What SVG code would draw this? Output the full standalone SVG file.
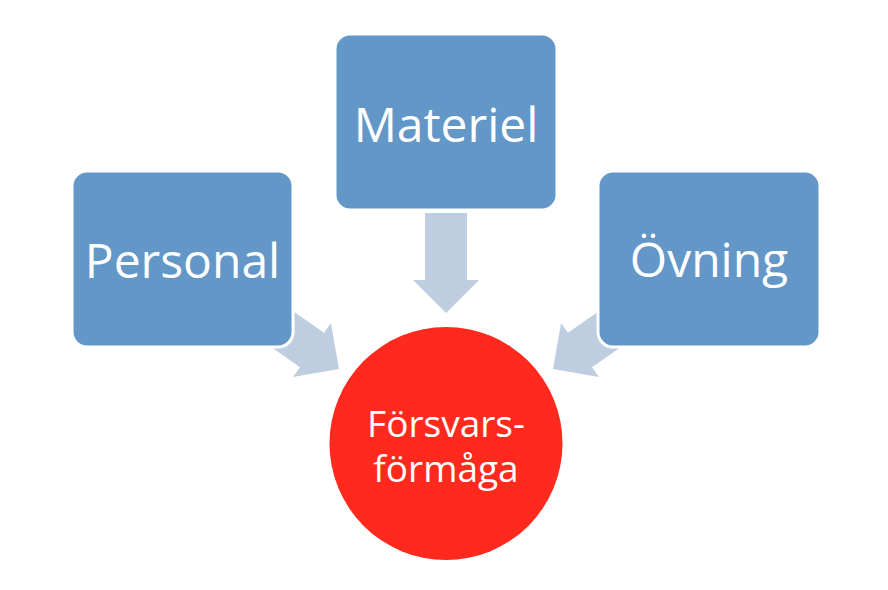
<svg xmlns="http://www.w3.org/2000/svg" xmlns:xlink="http://www.w3.org/1999/xlink" width="888" height="590" viewBox="0 0 888 590">
  <style>
    .box { fill: #6397C7; stroke: #FFFFFF; stroke-width: 3; }
    .arrow { fill: #BFCDE1; }
    .lbl { font-family: "Open Sans", "Liberation Sans", sans-serif; fill: #FFFFFF; text-anchor: middle; }
    .big { font-size: 48px; }
    .mid { font-size: 37px; }
  </style>
  <defs>
    <polygon id="arr" points="0,0 -33,-33 -33,-21 -100,-21 -100,21 -33,21 -33,33"/>
  </defs>
  <rect width="888" height="590" fill="#FFFFFF"/>
  <g id="connectors">
    <polygon class="arrow" points="425,213 467,213 467,280 479,280 446,313 413,280 425,280"/>
    <use class="arrow" href="#arr" xlink:href="#arr" transform="translate(339,369) rotate(35)"/>
    <use class="arrow" href="#arr" xlink:href="#arr" transform="translate(553,369) rotate(145)"/>
  </g>
  <g id="personal">
    <rect class="box" x="72" y="171" width="221" height="176" rx="15"/>
    <text class="lbl big" x="182.5" y="278">Personal</text>
  </g>
  <g id="materiel">
    <rect class="box" x="335" y="34" width="222" height="176" rx="15"/>
    <text class="lbl big" x="446" y="142">Materiel</text>
  </g>
  <g id="ovning">
    <rect class="box" x="598" y="171" width="222" height="176" rx="15"/>
    <text class="lbl big" x="709" y="277">Övning</text>
  </g>
  <g id="forsvarsformaga">
    <circle cx="446" cy="443.5" r="116.5" fill="#FF2A1D"/>
    <text class="lbl mid" x="446" y="437">Försvars-</text>
    <text class="lbl mid" x="446" y="482">förmåga</text>
  </g>
</svg>
